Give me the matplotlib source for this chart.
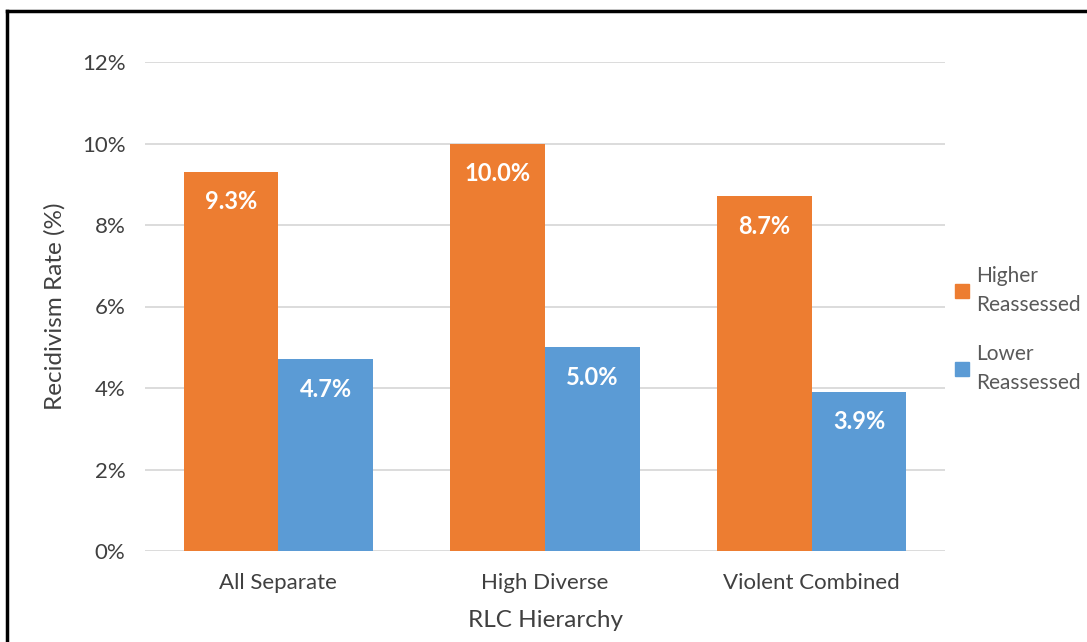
import matplotlib.pyplot as plt
import numpy as np
from matplotlib.lines import Line2D
from matplotlib.patches import Patch

plt.rcParams['font.family'] = ['Lato', 'DejaVu Sans']

categories = ['All Separate', 'High Diverse', 'Violent Combined']
higher = [9.3, 10.0, 8.7]
lower = [4.7, 5.0, 3.9]
series_names = ['Higher\nReassessed', 'Lower\nReassessed']
yticks = [0, 2, 4, 6, 8, 10, 12]

orange = '#ED7D31'
blue = '#5B9BD5'
text_dark = '#404040'
text_grey = '#595959'

fig = plt.figure(figsize=(10.87, 6.42), dpi=100)
ax = fig.add_axes([145 / 1087, 1 - 551 / 642, 800 / 1087, (551 - 62) / 642])

x = np.arange(len(categories))
w = 0.355
b1 = ax.bar(x - w / 2, higher, w, color=orange, zorder=3)
b2 = ax.bar(x + w / 2, lower, w, color=blue, zorder=3)

# value labels sit just inside the top of each bar
for bars, vals in [(b1, higher), (b2, lower)]:
    for r, v in zip(bars, vals):
        ax.text(r.get_x() + r.get_width() / 2, v - 0.45, f'{v:.1f}%',
                ha='center', va='top', color='white', fontsize=17,
                fontweight='bold')

ax.set_xlim(-0.5, 2.5)
ax.set_ylim(0, 12)
ax.set_yticks(yticks)
ax.set_yticklabels([f'{t}%' for t in yticks])
ax.set_xticks(x)
ax.set_xticklabels(categories)
ax.tick_params(axis='both', length=0, labelsize=16, colors=text_dark)
ax.tick_params(axis='y', pad=14)
ax.tick_params(axis='x', pad=16)
ax.grid(axis='y', color='#D9D9D9', linewidth=1.3, zorder=0)
for s in ax.spines.values():
    s.set_visible(False)

ax.set_xlabel('RLC Hierarchy', fontsize=17.5, color=text_dark, labelpad=12)
ax.set_ylabel('Recidivism Rate (%)', fontsize=17.5, color=text_dark,
              labelpad=12)

handles = [Patch(color=orange), Patch(color=blue)]
leg = fig.legend(handles, series_names, loc='upper left',
                 bbox_to_anchor=(955 / 1087, 1 - 266 / 642), frameon=False,
                 borderpad=0, borderaxespad=0, fontsize=15,
                 labelcolor=text_grey, handlelength=0.65, handleheight=0.7,
                 handletextpad=0.35, labelspacing=1.4)
for t in leg.get_texts():
    t.set_linespacing(1.55)

# outer frame: only top and left edges show
fig.add_artist(Line2D([7 / 1087, 1], [1 - 11 / 642, 1 - 11 / 642],
                      color='black', linewidth=2.5, transform=fig.transFigure))
fig.add_artist(Line2D([7 / 1087, 7 / 1087], [0, 1 - 11 / 642],
                      color='black', linewidth=2.5, transform=fig.transFigure))

fig.savefig('out.png', dpi=100)
